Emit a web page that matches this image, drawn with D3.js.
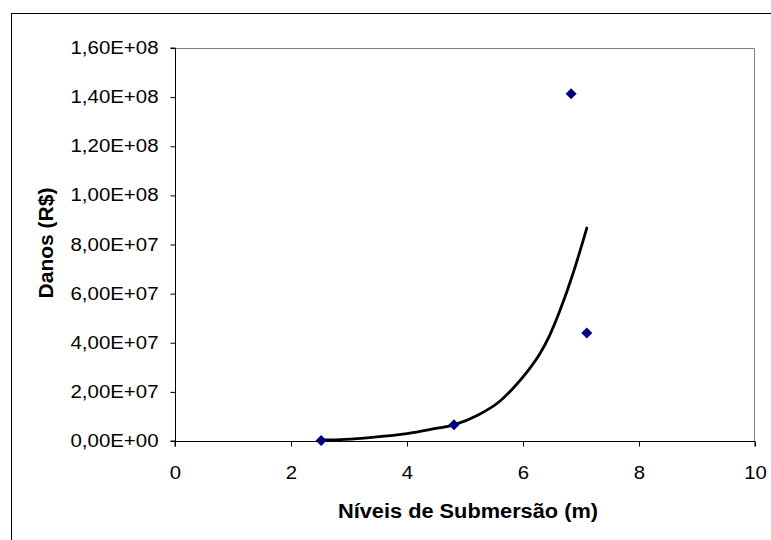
<!DOCTYPE html>
<html>
<head>
<meta charset="utf-8">
<script src="https://cdn.jsdelivr.net/npm/d3@7"></script>
<style>
  html, body { margin: 0; padding: 0; background: #fff; }
  svg { display: block; font-family: "Liberation Sans", Arial, sans-serif; }
</style>
</head>
<body>
<svg id="chart" width="771" height="540"></svg>
<script>
// Observed damage per submersion level
const niveis = [2.52, 4.81, 6.83, 7.10];
const danos = [0.2e6, 6.6e6, 1.414e8, 4.40e7];

// Exponential trend line, sampled along its length
const trendX = [2.52, 2.93, 3.40, 4.00, 4.45, 4.81, 5.21, 5.60, 5.83, 6.05, 6.29, 6.45, 6.64, 6.86, 7.10];
const trendY = [0.4e6, 0.7e6, 1.5e6, 3.0e6, 4.9e6, 6.6e6, 1.04e7, 1.62e7, 2.15e7, 2.75e7, 3.55e7, 4.25e7, 5.33e7, 6.80e7, 8.67e7];

const xTicks = [0, 2, 4, 6, 8, 10];
const yTicks = [0, 2e7, 4e7, 6e7, 8e7, 1e8, 1.2e8, 1.4e8, 1.6e8];

const xTitle = "Níveis de Submersão (m)";
const yTitle = "Danos (R$)";

const svg = d3.select("#chart");
const plot = { left: 175, top: 48, right: 755, bottom: 441 };

const x = d3.scaleLinear().domain([0, 10]).range([plot.left, plot.right]);
const y = d3.scaleLinear().domain([0, 1.6e8]).range([plot.bottom, plot.top]);

// Excel-style scientific labels with a decimal comma
const sci = v => {
  if (v === 0) return "0,00E+00";
  const e = Math.floor(Math.log10(v));
  const m = v / Math.pow(10, e);
  return m.toFixed(2).replace(".", ",") + "E+" + String(e).padStart(2, "0");
};

// Widen text horizontally by a factor, keeping its anchor
const widen = (sel, k) => sel.each(function () {
  const len = this.getComputedTextLength();
  d3.select(this).attr("textLength", len * k).attr("lengthAdjust", "spacingAndGlyphs");
});

// Outer chart frame
svg.append("rect")
  .attr("x", 11.5).attr("y", 13.5)
  .attr("width", 800).attr("height", 600)
  .attr("fill", "none").attr("stroke", "#000").attr("stroke-width", 1);

// Plot area border (top and right)
svg.append("path")
  .attr("d", `M${plot.left},${plot.top + 0.5}H${plot.right - 0.5}V${plot.bottom}`)
  .attr("fill", "none").attr("stroke", "#808080").attr("stroke-width", 1);

// Axes
const xAxis = svg.append("g")
  .attr("transform", `translate(0,${plot.bottom + 0.5})`)
  .call(d3.axisBottom(x).tickValues(xTicks).tickSize(5).tickFormat(d3.format("d")));
const yAxis = svg.append("g")
  .attr("transform", `translate(${plot.left + 0.5},0)`)
  .call(d3.axisLeft(y).tickValues(yTicks).tickSize(5).tickPadding(12).tickFormat(sci));

[xAxis, yAxis].forEach(g => {
  g.select(".domain").attr("stroke", "#000");
  g.selectAll(".tick line").attr("stroke", "#000");
  g.selectAll(".tick text").attr("fill", "#000")
    .style("font-family", "'Liberation Sans', Arial, sans-serif");
});
xAxis.selectAll(".tick text").style("font-size", "18.5px").attr("y", 37.5).attr("dy", 0);
widen(xAxis.selectAll(".tick text"), 1.1);
yAxis.selectAll(".tick text").style("font-size", "17.5px")
  .attr("textLength", 88).attr("lengthAdjust", "spacingAndGlyphs");
xAxis.select(".domain").attr("d", `M${plot.left},5V0H${plot.right}V5`);
yAxis.select(".domain").attr("d", `M-5,${plot.top}H0V${plot.bottom}H-5`);

// Trend line
const line = d3.line().x(d => x(d[0])).y(d => y(d[1])).curve(d3.curveMonotoneX);
svg.append("path")
  .datum(trendX.map((v, i) => [v, trendY[i]]))
  .attr("d", line)
  .attr("fill", "none").attr("stroke", "#000").attr("stroke-width", 2.8)
  .attr("stroke-linejoin", "round").attr("stroke-linecap", "round");

// Data points as diamonds
svg.append("g").selectAll("path")
  .data(niveis.map((v, i) => [v, danos[i]]))
  .join("path")
  .attr("transform", d => `translate(${x(d[0])},${y(d[1])})`)
  .attr("d", "M0,-5.5L5.5,0L0,5.5L-5.5,0Z")
  .attr("fill", "#000080");

// Axis titles
svg.append("text")
  .attr("x", 468).attr("y", 518)
  .attr("text-anchor", "middle")
  .attr("textLength", 260).attr("lengthAdjust", "spacingAndGlyphs")
  .style("font-weight", "bold").style("font-size", "19.5px")
  .text(xTitle);
svg.append("text")
  .attr("transform", "translate(53,243) rotate(-90)")
  .attr("text-anchor", "middle")
  .attr("textLength", 111).attr("lengthAdjust", "spacingAndGlyphs")
  .style("font-weight", "bold").style("font-size", "20px")
  .text(yTitle);
</script>
</body>
</html>
